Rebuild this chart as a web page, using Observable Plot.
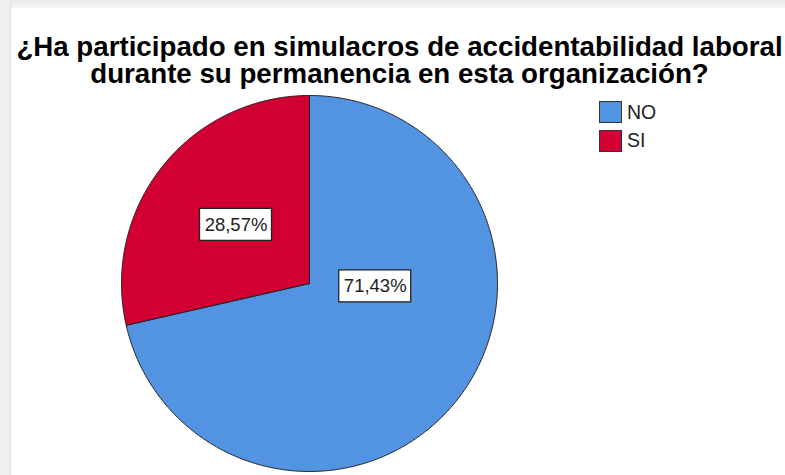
<!DOCTYPE html>
<html>
<head>
<meta charset="utf-8">
<script src="https://cdn.jsdelivr.net/npm/d3@7"></script>
<script src="https://cdn.jsdelivr.net/npm/@observablehq/plot@0.6"></script>
<style>
  html, body { margin: 0; padding: 0; background: #ffffff; width: 785px; height: 475px; overflow: hidden; position: relative; }
  #frameTop { position: absolute; left: 0; top: 0; width: 785px; height: 8px; background: linear-gradient(#e9e9e9, #f6f6f6); }
  #frameLeft { position: absolute; left: 0; top: 0; width: 10px; height: 475px; background: #f0f0f0; border-right: 1px solid #e2e2e2; }
  #title { position: relative; box-sizing: border-box; height: 90px; padding-top: 34px; padding-left: 14px; text-align: center;
           font-family: "Liberation Sans", Arial, sans-serif; font-weight: bold; font-size: 27.7px; line-height: 26.5px; color: #000; white-space: nowrap; }
  #chart { position: relative; display: block; }
  #legend { position: absolute; left: 599px; top: 98px; font-family: "Liberation Sans", Arial, sans-serif; font-size: 19.5px; color: #222; }
  .item { display: flex; align-items: center; height: 28.5px; margin: 0; }
  .item .sw { width: 21px; height: 20px; border: 1px solid #333; box-sizing: content-box; margin-right: 5px; }
</style>
</head>
<body>
<div id="frameTop"></div>
<div id="frameLeft"></div>
<div id="title">¿Ha participado en simulacros de accidentabilidad laboral<br>durante su permanencia en esta organización?</div>
<div id="chart"></div>
<div id="legend"></div>
<script>
// ---- data ----
const categories = ["NO", "SI"];
const percents = [71.43, 28.57];
const percentLabels = ["71,43%", "28,57%"];
const colors = ["#5294e2", "#d20032"];

// ---- layout (not data) ----
const W = 785, H = 385;
const cx = 309, cy = 193, R = 188;
const labelPlace = { NO: { angle: 92.5, r: 0.35 }, SI: { angle: null, r: 0.5 } }; // null => mid-angle
const boxW = 72, boxH = 32;
const unit = 1 / R; // data units per pixel

// ---- build slices from data ----
const pie = d3.pie().sort(null).value(d => d.value).startAngle(0).endAngle(2 * Math.PI);
const rows = categories.map((c, i) => ({ category: c, value: percents[i], label: percentLabels[i], color: colors[i] }));
const arcs = pie(rows);

const pts = [];
arcs.forEach(a => {
  const c = a.data.category;
  pts.push({ category: c, x: 0, y: 0 });
  const n = Math.max(2, Math.ceil((a.endAngle - a.startAngle) / (Math.PI / 360)));
  for (let k = 0; k <= n; k++) {
    const t = a.startAngle + (a.endAngle - a.startAngle) * k / n;
    pts.push({ category: c, x: Math.sin(t), y: Math.cos(t) });
  }
  pts.push({ category: c, x: 0, y: 0 });
});

const labelsData = arcs.map(a => {
  const p = labelPlace[a.data.category];
  const ang = p.angle == null ? (a.startAngle + a.endAngle) / 2 : p.angle * Math.PI / 180;
  const x = p.r * Math.sin(ang), y = p.r * Math.cos(ang);
  return { category: a.data.category, label: a.data.label, x, y,
           x1: x - boxW / 2 * unit, x2: x + boxW / 2 * unit, y1: y - boxH / 2 * unit, y2: y + boxH / 2 * unit };
});

const plot = Plot.plot({
  width: W, height: H,
  margin: 0,
  style: { background: "transparent", overflow: "visible" },
  x: { domain: [-1, 1], range: [cx - R, cx + R], axis: null },
  y: { domain: [-1, 1], range: [cy + R, cy - R], axis: null },
  color: { domain: categories, range: colors },
  marks: [
    Plot.line(pts, { x: "x", y: "y", z: "category", fill: "category", stroke: "#222", strokeWidth: 1, curve: "linear", strokeLinejoin: "round" }),
    Plot.rect(labelsData, { x1: "x1", x2: "x2", y1: "y1", y2: "y2", fill: "white", stroke: "#222", strokeWidth: 1.3 }),
    Plot.text(labelsData, { x: "x", y: "y", text: "label", fontSize: 18.5, fill: "#222", fontFamily: "Liberation Sans, Arial, sans-serif", textAnchor: "middle", lineAnchor: "middle" })
  ]
});
document.getElementById("chart").appendChild(plot);

// legend
const leg = document.getElementById("legend");
categories.forEach((c, i) => {
  const it = document.createElement("div");
  it.className = "item";
  const sw = document.createElement("div");
  sw.className = "sw";
  sw.style.background = colors[i];
  const tx = document.createElement("span");
  tx.textContent = c;
  it.appendChild(sw); it.appendChild(tx);
  leg.appendChild(it);
});
</script>
</body>
</html>
